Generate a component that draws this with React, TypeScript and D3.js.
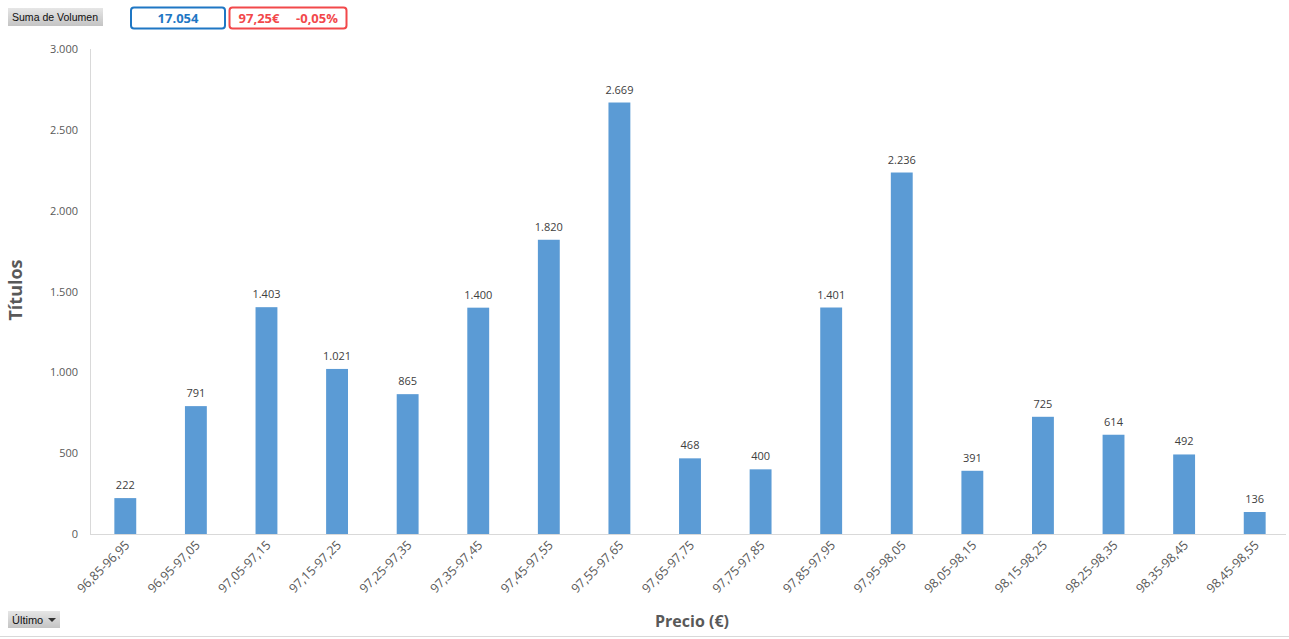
import React from "react";
import * as d3 from "d3";

const categories = ["96,85-96,95","96,95-97,05","97,05-97,15","97,15-97,25","97,25-97,35","97,35-97,45","97,45-97,55","97,55-97,65","97,65-97,75","97,75-97,85","97,85-97,95","97,95-98,05","98,05-98,15","98,15-98,25","98,25-98,35","98,35-98,45","98,45-98,55"];
const volumes = [222, 791, 1403, 1021, 865, 1400, 1820, 2669, 468, 400, 1401, 2236, 391, 725, 614, 492, 136];
const yTicks = [0, 500, 1000, 1500, 2000, 2500, 3000];
const totalLabel = "17.054";
const priceLabel = "97,25€";
const changeLabel = "-0,05%";

const W = 1289, H = 639;
const fmt = (v: number) => d3.format(",")(v).replace(/,/g, ".");

export default function App() {
  const x = d3.scaleBand<string>().domain(categories).range([90, 1290]).paddingInner(0.69).paddingOuter(0.345);
  const y = d3.scaleLinear().domain([0, 3000]).range([534, 49]);
  const font = "'Open Sans', 'Noto Sans', sans-serif";
  return (
    <div style={{ position: "fixed", left: 0, top: 0, width: W, height: H, background: "#fff" }}>
      <svg width={W} height={H} style={{ display: "block", fontFamily: font }}>
        <defs>
          <linearGradient id="btn" x1="0" y1="0" x2="0" y2="1">
            <stop offset="0" stopColor="#e6e6e6" />
            <stop offset="1" stopColor="#c4c4c4" />
          </linearGradient>
        </defs>
        {/* slicer buttons */}
        <rect x={8} y={8} width={95} height={18} fill="url(#btn)" />
        <text x={12} y={21} fontSize={10} fill="#111" fontFamily="'Liberation Sans', sans-serif" textLength={86} lengthAdjust="spacingAndGlyphs">Suma de Volumen</text>
        <rect x={131} y={7.5} width={94} height={21} rx={3} fill="#fff" stroke="#1f77c4" strokeWidth={2} />
        <text x={178} y={23} fontSize={13} fontWeight="bold" fill="#1f77c4" textAnchor="middle">{totalLabel}</text>
        <rect x={229.5} y={7.5} width={117} height={21} rx={3} fill="#fff" stroke="#f2484b" strokeWidth={2} />
        <text x={259} y={23} fontSize={13} fontWeight="bold" fill="#f2484b" textAnchor="middle">{priceLabel}</text>
        <text x={317} y={23} fontSize={13} fontWeight="bold" fill="#f2484b" textAnchor="middle">{changeLabel}</text>

        {/* axes */}
        <line x1={90.5} x2={90.5} y1={49} y2={534} stroke="#d9d9d9" />
        <line x1={90} x2={1286} y1={534.5} y2={534.5} stroke="#d9d9d9" />
        {yTicks.map((t) => (
          <text key={t} x={78} y={y(t) + 4} fontSize={11} fill="#595959" textAnchor="end">{fmt(t)}</text>
        ))}

        {/* bars */}
        {categories.map((c, i) => {
          const bx = x(c)!;
          const cx = bx + x.bandwidth() / 2;
          return (
            <g key={c}>
              <rect x={bx} y={y(volumes[i])} width={x.bandwidth()} height={534 - y(volumes[i])} fill="#5b9bd5" />
              <text x={cx} y={y(volumes[i]) - 9} fontSize={11} fill="#404040" textAnchor="middle">{fmt(volumes[i])}</text>
              <text transform={`translate(${cx + 5},${546}) rotate(-45)`} fontSize={12.5} fill="#595959" textAnchor="end">{c}</text>
            </g>
          );
        })}

        {/* titles */}
        <text transform="translate(22,290) rotate(-90)" fontSize={18} fontWeight="bold" fill="#595959" textAnchor="middle">Títulos</text>
        <text x={692} y={627} fontSize={16} fontWeight="bold" fill="#595959" textAnchor="middle">Precio (€)</text>

        {/* Último button */}
        <rect x={8} y={611} width={52} height={17} fill="url(#btn)" />
        <text x={12} y={624} fontSize={11} fill="#111" fontFamily="'Liberation Sans', sans-serif">Último</text>
        <path d="M48,618 L56,618 L52,622 Z" fill="#333" />
        <line x1={0} x2={W} y1={636.5} y2={636.5} stroke="#d9d9d9" />
      </svg>
    </div>
  );
}
